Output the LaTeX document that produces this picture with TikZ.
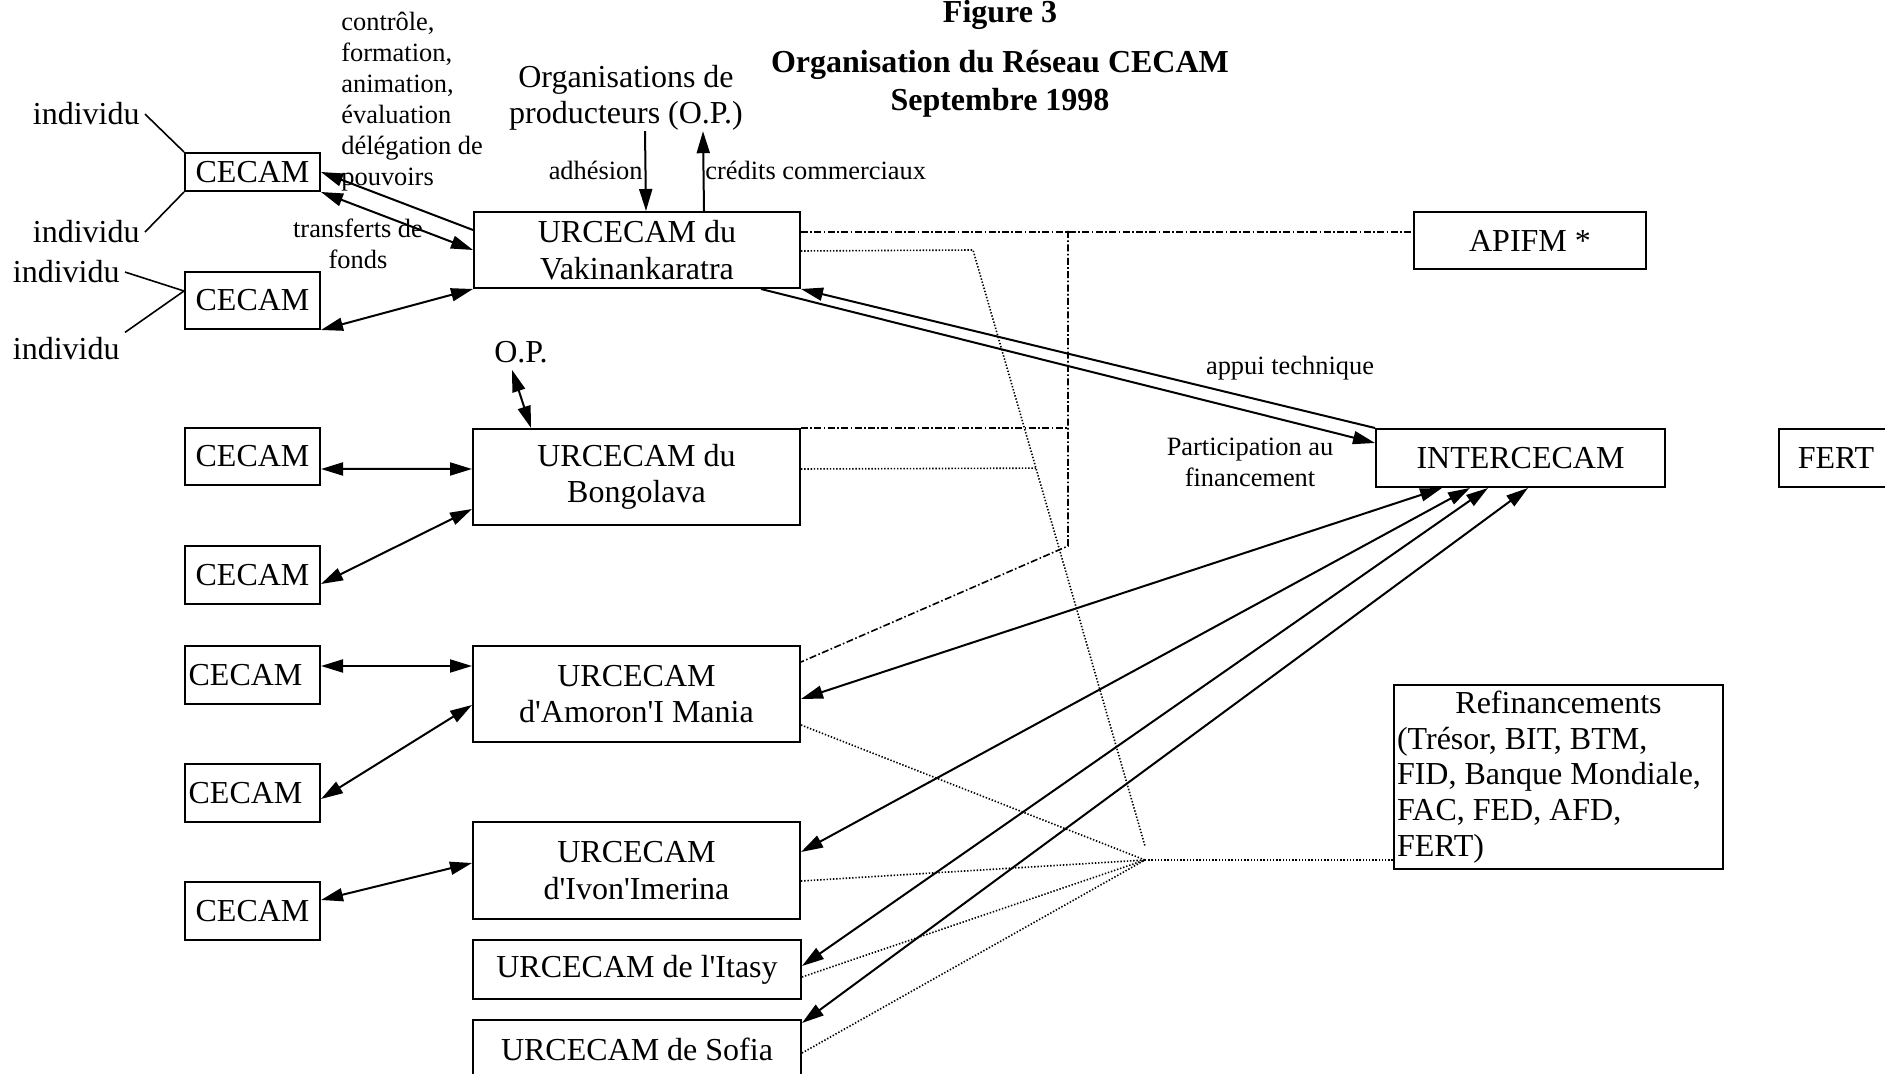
\documentclass[tikz,border=0pt]{standalone}
\usepackage{fontspec}
\setmainfont{Liberation Serif}
\usetikzlibrary{arrows.meta,calc}

\begin{document}
\begin{tikzpicture}[x=5pt, y=5pt]
\tikzstyle{every node}+=[inner sep=0pt, font=\fontsize{16}{18.3}\selectfont]
\tikzstyle{box}=[draw, line width=1pt, anchor=north west, align=center]
\tikzstyle{cecam}=[box, minimum width=67.5pt, minimum height=29pt]
\tikzstyle{urc}=[box, minimum width=163.5pt, minimum height=48pt]
\tikzstyle{small}=[font=\fontsize{13.2}{15.5}\selectfont]
\tikzstyle{indiv}=[inner sep=2.5pt, anchor=base east]
\tikzstyle{flow}=[line width=1pt]
\tikzstyle{dashdot}=[line width=0.8pt, dash pattern=on 3.5pt off 1.2pt on 0.8pt off 1.2pt]
\tikzstyle{dots}=[line width=0.8pt, dash pattern=on 0.7pt off 0.9pt]
\tikzset{>={Triangle[length=11pt,width=6.5pt]}}
\useasboundingbox (0,0) rectangle (188.5,-107.4);

\node[font=\bfseries\fontsize{16}{19}\selectfont, anchor=base] (fig) at (100.0,-2.3) {Figure 3};
\node[font=\bfseries\fontsize{16}{19}\selectfont, align=center] (title) at (100.0,-8.35) {Organisation du Réseau CECAM\\Septembre 1998};

\node[cecam, minimum height=19pt] (cecamA) at (18.4,-15.2) {CECAM};
\node[cecam, minimum height=28.5pt] (cecamB) at (18.4,-27.1) {CECAM};
\node[cecam, minimum height=28.5pt] (cecamC) at (18.4,-42.7) {CECAM};
\node[cecam] (cecamD) at (18.4,-54.5) {CECAM};
\node[cecam] (cecamE) at (18.4,-64.5) {CECAM\hspace*{7pt}};
\node[cecam] (cecamF) at (18.4,-76.3) {CECAM\hspace*{7pt}};
\node[cecam] (cecamG) at (18.4,-88.1) {CECAM};

\node[urc, minimum width=163pt, minimum height=38pt] (vak) at (47.3,-21.1) {URCECAM du\\Vakinankaratra};
\node[urc] (bongo) at (47.2,-42.8) {URCECAM du\\Bongolava};
\node[urc] (amoron) at (47.2,-64.5) {URCECAM\\d\textquotesingle Amoron\textquotesingle I Mania};
\node[urc, minimum height=48.5pt] (ivon) at (47.2,-82.1) {URCECAM\\d\textquotesingle Ivon\textquotesingle Imerina};
\node[urc, minimum width=164pt, minimum height=29.5pt] (itasy) at (47.2,-93.9) {URCECAM de l\textquotesingle Itasy};
\node[urc, minimum width=164pt, minimum height=29.5pt] (sofia) at (47.2,-101.9) {URCECAM de Sofia};

\node[box, minimum width=116pt, minimum height=28.5pt] (apifm) at (141.3,-21.1) {APIFM *};
\node[box, minimum width=144.5pt, minimum height=29pt] (inter) at (137.5,-42.8) {INTERCECAM};
\node[box, minimum width=57pt, minimum height=29pt] (fert) at (177.8,-42.8) {FERT};
\node[box, align=flush left, text width=161.5pt, inner xsep=1.5pt, minimum height=92pt, font=\fontsize{16}{17.9}\selectfont] (refin) at (139.3,-68.4) {\makebox[161.5pt]{Refinancements}\\(Trésor, BIT, BTM,\\FID, Banque Mondiale,\\FAC, FED, AFD,\\FERT)};

\node[indiv] (indA) at (14.5,-12.5) {individu};
\node[indiv] (indB) at (14.5,-24.3) {individu};
\node[indiv] (indC) at (12.5,-28.3) {individu};
\node[indiv] (indD) at (12.5,-36.0) {individu};
\node[align=center] (org) at (62.6,-9.8) {Organisations de\\producteurs (O.P.)};
\node[small, anchor=base east] (adh) at (64.3,-18.0) {adhésion};
\node[small, anchor=base west] (cred) at (70.5,-18.0) {crédits commerciaux};
\node[inner sep=3pt, anchor=base] (op) at (52.1,-36.3) {O.P.};
\node[small, align=left, anchor=north west] (ctrl) at (34.1,-1.2) {contrôle,\\formation,\\animation,\\évaluation\\délégation de\\pouvoirs};
\node[small, align=center] (transf) at (35.8,-24.4) {transferts de\\fonds};
\node[small] (appui) at (129.0,-36.8) {appui technique};
\node[small, align=center] (partic) at (125.0,-46.2) {Participation au\\financement};

\coordinate (jd1) at (106.8,-23.1);
\coordinate (jd2) at (106.8,-54.6);
\coordinate (dA) at (97.3,-25.0);
\coordinate (dB) at (114.5,-84.6);
\coordinate (dH) at (114.5,-86.0);

\draw[line width=0.8pt] (indA.east) -- (cecamA.north west);
\draw[line width=0.8pt] (indB.east) -- (cecamA.south west);
\draw[line width=0.8pt] (indC.east) -- ([yshift=4.75pt]cecamB.west);
\draw[line width=0.8pt] (indD.north east) -- ([yshift=4.75pt]cecamB.west);

\draw[flow, ->] ([yshift=10pt]vak.west) -- (cecamA.east);
\draw[flow, <->] (cecamA.south east) -- (vak.west);
\draw[flow, <->] (cecamB.south east) -- (vak.south west);
\draw[flow, ->] ([xshift=9.5pt]org.south) -- ([xshift=4.5pt]vak.north);
\draw[flow, ->] ([xshift=33.5pt]vak.north) -- ([xshift=38.5pt]org.south);
\draw[flow, <->] ([xshift=-4.5pt]op.south) -- ([xshift=-52.75pt]bongo.north);
\draw[flow, <->] ([yshift=-6.25pt]cecamC.east) -- ([yshift=4pt]bongo.west);
\draw[flow, <->] ([yshift=-4.5pt]cecamD.east) -- ([yshift=8.5pt]bongo.south west);
\draw[flow, <->] ([yshift=4.5pt]cecamE.east) -- ([yshift=14pt]amoron.west);
\draw[flow, <->] ([yshift=-3pt]cecamF.east) -- ([yshift=-5.5pt]amoron.west);
\draw[flow, <->] ([yshift=5.5pt]cecamG.east) -- ([yshift=3.75pt]ivon.west);
\draw[flow, ->] (inter.north west) -- (vak.south east);
\draw[flow, ->] ([xshift=62pt]vak.south) -- ([yshift=7.5pt]inter.west);
\draw[flow, <->] ([xshift=33.5pt]inter.south west) -- ([yshift=-2.5pt]amoron.east);
\draw[flow, <->] ([xshift=47.5pt]inter.south west) -- ([yshift=9.25pt]ivon.east);
\draw[flow, <->] ([xshift=56.5pt]inter.south west) -- ([yshift=1.75pt]itasy.east);
\draw[flow, <->] ([xshift=76.5pt]inter.south west) -- ([yshift=13.25pt]sofia.east);

\draw[dashdot] ([yshift=9pt]vak.east) -- ([yshift=4.25pt]apifm.west);
\draw[dashdot] (jd1) -- (jd2) -- ([yshift=16pt]amoron.east);
\draw[dashdot] (bongo.north east) -- (bongo.north east -| jd1);

\draw[dots] ([yshift=-0.5pt]vak.east) -- (dA) -- (dB);
\draw[dots] ([yshift=4pt]bongo.east) -- ($(dA)!0.366!(dB)$);
\draw[dots] ([yshift=-15.5pt]amoron.east) -- (dH);
\draw[dots] ([yshift=-5.25pt]ivon.east) -- (dH);
\draw[dots] ([yshift=-3.75pt]itasy.east) -- (dH);
\draw[dots] ([yshift=-1.75pt]sofia.east) -- (dH);
\draw[dots] (dH) -- (dH -| refin.west);
\end{tikzpicture}
\end{document}
